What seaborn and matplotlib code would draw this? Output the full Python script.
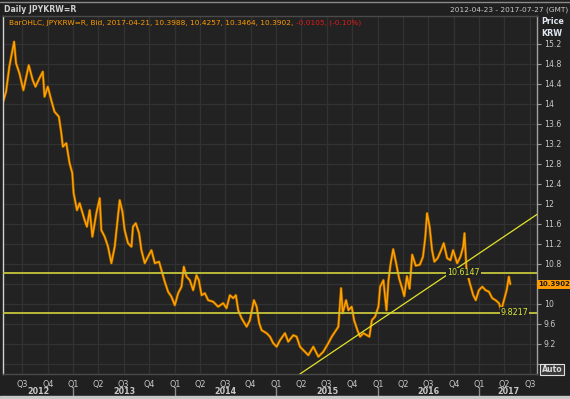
import matplotlib
matplotlib.use('Agg')
import matplotlib.pyplot as plt
from matplotlib.lines import Line2D
from matplotlib.patches import Rectangle
import pandas as pd
import seaborn as sns

# JPYKRW=R daily bid: decimal year -> price (KRW)
price_years = [
    2012.310, 2012.339, 2012.371, 2012.418, 2012.437, 2012.470, 2012.509, 2012.562,
    2012.601, 2012.628, 2012.667, 2012.700, 2012.717, 2012.749, 2012.783, 2012.815,
    2012.858, 2012.882, 2012.897, 2012.931, 2012.963, 2012.990, 2013.003, 2013.036,
    2013.062, 2013.112, 2013.134, 2013.161, 2013.188, 2013.227, 2013.260, 2013.276,
    2013.309, 2013.342, 2013.375, 2013.408, 2013.440, 2013.457, 2013.484, 2013.506,
    2013.539, 2013.573, 2013.588, 2013.615, 2013.648, 2013.671, 2013.704, 2013.736,
    2013.770, 2013.803, 2013.845, 2013.869, 2013.901, 2013.934, 2013.967, 2014.000,
    2014.033, 2014.066, 2014.089, 2014.116, 2014.148, 2014.181, 2014.214, 2014.237,
    2014.264, 2014.296, 2014.329, 2014.378, 2014.427, 2014.477, 2014.510, 2014.543,
    2014.576, 2014.602, 2014.625, 2014.658, 2014.708, 2014.740, 2014.780, 2014.807,
    2014.832, 2014.856, 2014.905, 2014.938, 2014.970, 2015.004, 2015.037, 2015.086,
    2015.118, 2015.168, 2015.201, 2015.234, 2015.267, 2015.316, 2015.365, 2015.415,
    2015.464, 2015.513, 2015.547, 2015.579, 2015.612, 2015.639, 2015.655, 2015.688,
    2015.711, 2015.744, 2015.767, 2015.800, 2015.826, 2015.859, 2015.893, 2015.918,
    2015.942, 2015.974, 2016.007, 2016.024, 2016.056, 2016.086, 2016.106, 2016.127,
    2016.152, 2016.182, 2016.211, 2016.241, 2016.261, 2016.287, 2016.313, 2016.339,
    2016.374, 2016.414, 2016.445, 2016.468, 2016.485, 2016.510, 2016.534, 2016.557,
    2016.589, 2016.623, 2016.649, 2016.682, 2016.715, 2016.741, 2016.781, 2016.813,
    2016.840, 2016.853, 2016.873, 2016.905, 2016.939, 2016.964, 2016.994, 2017.028,
    2017.060, 2017.093, 2017.126, 2017.159, 2017.192, 2017.215, 2017.241, 2017.268,
    2017.290, 2017.304,
]
price_values = [
    14.04, 14.24, 14.74, 15.24, 14.81, 14.61, 14.27, 14.77,
    14.47, 14.34, 14.51, 14.64, 14.14, 14.34, 14.07, 13.84,
    13.74, 13.41, 13.14, 13.21, 12.81, 12.61, 12.21, 11.87,
    12.01, 11.67, 11.54, 11.87, 11.34, 11.81, 12.11, 11.47,
    11.34, 11.14, 10.81, 11.14, 11.74, 12.07, 11.84, 11.47,
    11.21, 11.14, 11.54, 11.61, 11.41, 11.07, 10.81, 10.94,
    11.07, 10.81, 10.84, 10.67, 10.44, 10.24, 10.14, 9.97,
    10.21, 10.34, 10.74, 10.54, 10.47, 10.27, 10.57, 10.47,
    10.17, 10.21, 10.07, 10.04, 9.94, 10.01, 9.91, 10.17,
    10.11, 10.17, 9.87, 9.71, 9.54, 9.67, 10.07, 9.94,
    9.61, 9.47, 9.41, 9.34, 9.21, 9.14, 9.27, 9.41,
    9.24, 9.37, 9.34, 9.14, 9.07, 8.97, 9.14, 8.94,
    9.04, 9.21, 9.34, 9.44, 9.54, 10.31, 9.81, 10.07,
    9.87, 9.94, 9.67, 9.47, 9.34, 9.41, 9.37, 9.34,
    9.67, 9.74, 9.94, 10.34, 10.47, 9.87, 10.47, 10.80,
    11.09, 10.80, 10.50, 10.30, 10.15, 10.55, 10.30, 10.98,
    10.76, 10.78, 10.94, 11.34, 11.81, 11.54, 11.07, 10.84,
    10.91, 11.07, 11.21, 10.91, 10.87, 11.07, 10.81, 10.94,
    11.14, 11.41, 10.67, 10.41, 10.17, 10.07, 10.27, 10.34,
    10.27, 10.24, 10.11, 10.07, 10.01, 9.87, 10.07, 10.27,
    10.54, 10.39,
]

# horizontal levels and their labels
level_values = [10.6147, 9.8217]
level_labels = ['10.6147', '9.8217']
level_label_years = [2016.843, 2017.347]

# trend line end points
trend_years = [2015.23, 2017.57]
trend_values = [8.59, 11.79]

last_price = 10.3902
ytick_values = [8.8, 9.2, 9.6, 10, 10.4, 10.8, 11.2, 11.6, 12, 12.4, 12.8,
                13.2, 13.6, 14, 14.4, 14.8, 15.2]
ytick_labels = ['', '9.2', '9.6', '10', '', '10.8', '11.2', '11.6', '12', '12.4',
                '12.8', '13.2', '13.6', '14', '14.4', '14.8', '15.2']
years = [2012, 2013, 2014, 2015, 2016, 2017]

x_start = pd.Timestamp('2012-04-23')
x_end = pd.Timestamp('2017-07-27')


def to_date(y):
    yr = int(y)
    a = pd.Timestamp(yr, 1, 1)
    b = pd.Timestamp(yr + 1, 1, 1)
    return a + (b - a) * (y - yr)


df = pd.DataFrame({'date': [to_date(y) for y in price_years], 'price': price_values})

sns.set_style('dark')
plt.rcParams['font.family'] = ['DejaVu Sans']

W, H = 570, 399
bg = '#202020'
txt = '#c8c8c8'
fig = plt.figure(figsize=(W / 100, H / 100), dpi=100, facecolor=bg)
ax = fig.add_axes([3 / W, 1 - 374 / H, 534 / W, 358 / H])
ax.set_facecolor('#222222')

# price series (dark underlay gives the bar edges)
sns.lineplot(data=df, x='date', y='price', ax=ax, color='#8a5200', linewidth=2.0)
sns.lineplot(data=df, x='date', y='price', ax=ax, color='#ffa200', linewidth=1.1)

ax.set_xlim(x_start, x_end)
ax.set_ylim(8.594, 15.754)

# levels
for v, lab, yy in zip(level_values, level_labels, level_label_years):
    ax.axhline(v, color='#c4c43c', linewidth=1.3, zorder=3)
    ax.text(to_date(yy), v, lab, color='#d6e63a', fontsize=5.8, ha='center', va='center',
            zorder=4, bbox=dict(facecolor='#222222', edgecolor='none', pad=0.6))

# trend line
ax.plot([to_date(y) for y in trend_years], trend_values, color='#e2e22a', linewidth=0.9, zorder=3)

# x axis: quarters
quarters = pd.date_range('2012-07-01', '2017-07-01', freq='QS')
ax.set_xticks(quarters)
ax.set_xticklabels(['Q%d' % q.quarter for q in quarters])
ax.yaxis.tick_right()
ax.set_yticks(ytick_values)
ax.set_yticklabels(ytick_labels)
ax.tick_params(axis='both', colors='#9a9a9a', labelcolor=txt, labelsize=5.6,
               length=3, width=0.8, pad=2, direction='out')
ax.tick_params(axis='x', pad=1, labelsize=5.8)
ax.set_xlabel('')
ax.set_ylabel('')
ax.grid(True, color='#323232', linewidth=0.9)

for s in ['top', 'bottom']:
    ax.spines[s].set_color('#4a4a4a')
ax.spines['left'].set_color('#d0d0d0')
ax.spines['right'].set_color('#a0a0a0')
for s in ax.spines.values():
    s.set_linewidth(1)
    s.set_visible(True)

# year labels centred on the visible part of each year, with separators
xt = ax.get_xaxis_transform()
for yr in years:
    a = max(pd.Timestamp(yr, 1, 1), x_start)
    b = min(pd.Timestamp(yr + 1, 1, 1), x_end)
    mid = a + (b - a) / 2
    ax.text(mid, -18 / 358, str(yr), transform=xt, ha='center', va='center',
            fontsize=5.8, fontweight='bold', color=txt)
    if yr > 2012:
        ax.plot([pd.Timestamp(yr, 1, 1)] * 2, [-13 / 358, -25 / 358], transform=xt,
                clip_on=False, color='#8a8a8a', linewidth=1)

# header
fig.add_artist(Line2D([0, 1], [1 - 1.5 / H] * 2, color='#8a8a8a', linewidth=1))
fig.add_artist(Rectangle((0, 0), 1, 3 / H, color='#c8c8c8', transform=fig.transFigure))
fig.text(4 / W, 1 - 10 / H, 'Daily JPYKRW=R', color='#d0d0d0', fontsize=5.6, fontweight='bold',
         va='center')
fig.text(568 / W, 1 - 10 / H, '2012-04-23 - 2017-07-27 (GMT)', color=txt, fontsize=5.3,
         ha='right', va='center')
fig.text(541 / W, 1 - 22 / H, 'Price', color='#dde4ee', fontsize=5.8, fontweight='bold', va='center')
fig.text(541 / W, 1 - 33 / H, 'KRW', color='#dde4ee', fontsize=5.8, fontweight='bold', va='center')

t1 = ax.text(6 / 534, 1 - 7 / 358,
             'BarOHLC, JPYKRW=R, Bid, 2017-04-21, 10.3988, 10.4257, 10.3464, 10.3902, ',
             transform=ax.transAxes, color='#ff9a00', fontsize=5.3, va='center')
ax.annotate('-0.0105, (-0.10%)', xy=(1, 0), xycoords=t1, va='bottom', color='#e01818', fontsize=5.3)

# last price tag and Auto button
ax.annotate('%.4f' % last_price, xy=(1, last_price), xycoords=('axes fraction', 'data'),
            xytext=(1.2, 0), textcoords='offset points', ha='left', va='center', fontsize=5.0,
            fontweight='bold', color='#1a1a1a', annotation_clip=False,
            bbox=dict(facecolor='#ff9a00', edgecolor='none', pad=1.2))
fig.text(552 / W, 1 - 369.5 / H, 'Auto', color='#d8d8d8', fontsize=5.6, fontweight='bold',
         ha='center', va='center',
         bbox=dict(facecolor='#3a3a3a', edgecolor='#e0e0e0', linewidth=0.8, pad=1))

fig.savefig('out.png', dpi=100, facecolor=bg)
